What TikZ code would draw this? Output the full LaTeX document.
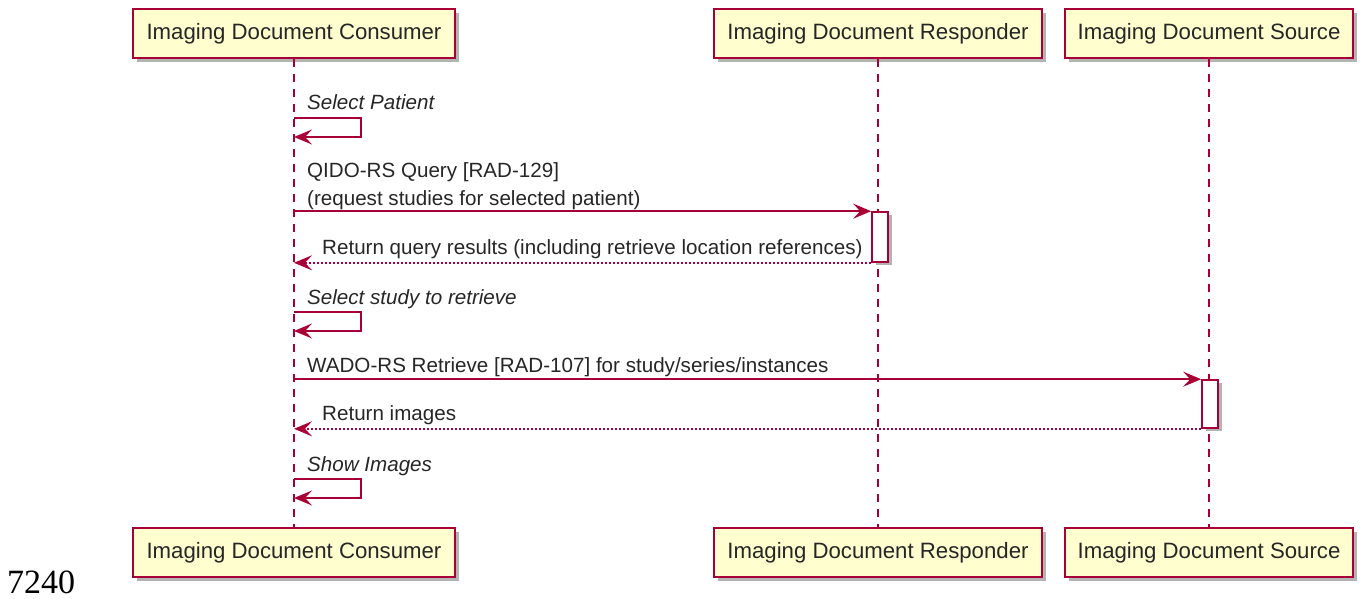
\documentclass[tikz,border=0pt]{standalone}
\usepackage{fontspec}
\setmainfont{Liberation Sans}
\newfontfamily\serifnum{Liberation Serif}
\usetikzlibrary{arrows.meta,shadows,calc}
\definecolor{puRed}{HTML}{A80036}
\definecolor{puFill}{HTML}{FEFECE}
\tikzset{
  partbox/.style={draw=puRed, fill=puFill, line width=2.2pt, minimum height=49pt, inner sep=0pt,
    font=\fontsize{22.2}{26}\selectfont, text=black!85,
    drop shadow={shadow xshift=4pt, shadow yshift=-4pt, fill=black!50, opacity=0.6}},
  lifeline/.style={draw=puRed, line width=1.5pt, dash pattern=on 8pt off 7pt},
  actbox/.style={draw=puRed, fill=white, line width=1.6pt, minimum width=16pt, inner sep=0pt,
    drop shadow={shadow xshift=4pt, shadow yshift=-3pt, fill=black!50, opacity=0.6}},
  msg/.style={draw=puRed, line width=1.6pt, -{Stealth[length=18pt,width=15pt,inset=7pt]}},
  ret/.style={msg, dash pattern=on 2pt off 2pt},
  msgtext/.style={anchor=base west, inner sep=0pt, font=\fontsize{20.6}{28}\selectfont, text=black!85, align=left},
  selftext/.style={msgtext, font=\fontsize{20.6}{28}\selectfont\itshape},
}
\begin{document}
\begin{tikzpicture}[x=1pt,y=-1pt]
\useasboundingbox (0,0) rectangle (1361,599);
% participants
\node[partbox, minimum width=322pt] (c1) at (294,33.5) {Imaging Document Consumer};
\node[partbox, minimum width=328pt] (r1) at (878,33.5) {Imaging Document Responder};
\node[partbox, minimum width=288pt] (s1) at (1209,33.5) {Imaging Document Source};
\node[partbox, minimum width=322pt] (c2) at (294,552.5) {Imaging Document Consumer};
\node[partbox, minimum width=328pt] (r2) at (878,552.5) {Imaging Document Responder};
\node[partbox, minimum width=288pt] (s2) at (1209,552.5) {Imaging Document Source};
% lifelines
\draw[lifeline] (c1.south) -- (c2.north);
\draw[lifeline] (r1.south) -- (r2.north);
\draw[lifeline] (s1.south) -- (s2.north);
% activations
\node[actbox, minimum height=50pt] (a1) at (880,237) {};
\node[actbox, minimum height=48pt] (a2) at (1210,404) {};
% 1 Select Patient
\coordinate (p1a) at (c1 |- 0,118);
\coordinate (p1b) at (c1 |- 0,137);
\node[selftext] (t1) at (307,110) {Select Patient};
\draw[msg] (p1a) -- ++(67,0) |- (p1b);
% 2 QIDO
\node[msgtext] (t2) at (307,205) {QIDO-RS Query [RAD-129]\\(request studies for selected patient)};
\draw[msg] (c1 |- a1.north west) -- (a1.north west);
% 3 return
\node[msgtext] (t3) at (322,254) {Return query results (including retrieve location references)};
\draw[ret] (a1.south west) -- (c1 |- a1.south west);
% 4 select study
\coordinate (p4a) at (c1 |- 0,312);
\coordinate (p4b) at (c1 |- 0,331);
\node[selftext] (t4) at (307,304) {Select study to retrieve};
\draw[msg] (p4a) -- ++(67,0) |- (p4b);
% 5 WADO
\node[msgtext] (t5) at (307,372) {WADO-RS Retrieve [RAD-107] for study/series/instances};
\draw[msg] (c1 |- a2.north west) -- (a2.north west);
% 6 return images
\node[msgtext] (t6) at (322,420) {Return images};
\draw[ret] (a2.south west) -- (c1 |- a2.south west);
% 7 show images
\coordinate (p7a) at (c1 |- 0,479);
\coordinate (p7b) at (c1 |- 0,498);
\node[selftext] (t7) at (307,471) {Show Images};
\draw[msg] (p7a) -- ++(67,0) |- (p7b);
% page number
\node[anchor=base west, inner sep=0pt, font=\serifnum\fontsize{34}{40}\selectfont] (pg) at (7,593) {7240};
\end{tikzpicture}
\end{document}
